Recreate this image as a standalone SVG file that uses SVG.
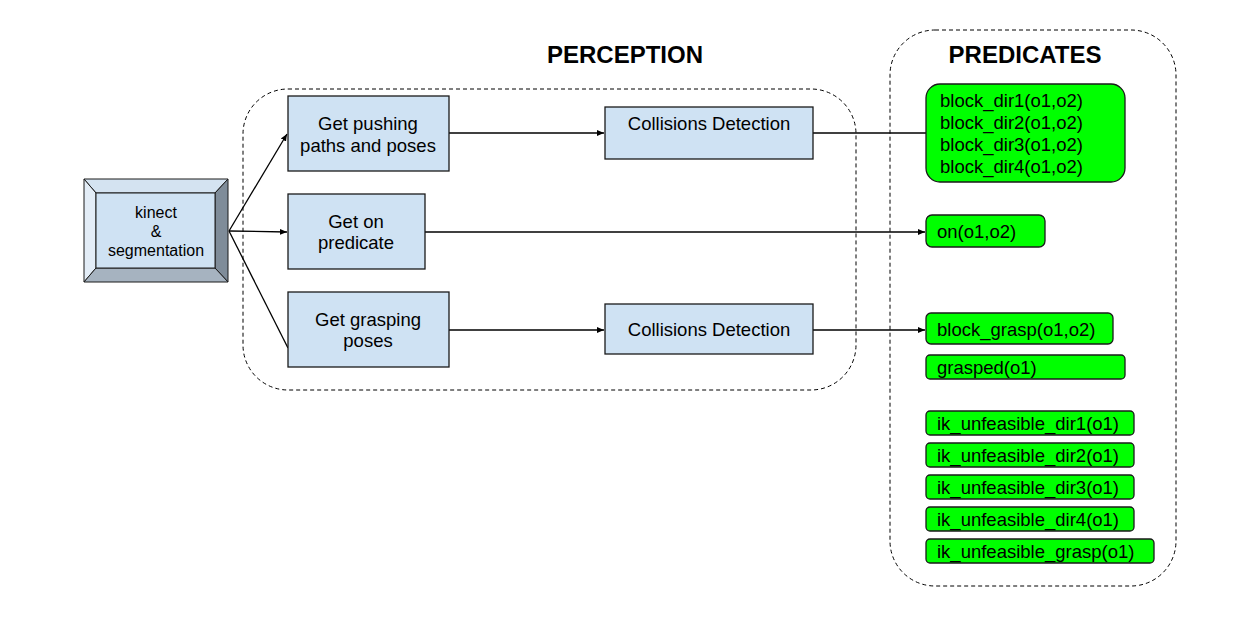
<svg xmlns="http://www.w3.org/2000/svg" width="1254" height="625" viewBox="0 0 1254 625">
<style>
text{font-family:"Liberation Sans",Arial,sans-serif;fill:#000}
.title{font-size:24px;font-weight:bold;text-anchor:middle}
.proc{fill:#cfe2f3;stroke:#1a1a1a;stroke-width:1.3}
.pt{font-size:18.5px;text-anchor:middle}
.kt{font-size:16px;text-anchor:middle}
.pred{fill:#00ff00;stroke:#1a1a1a;stroke-width:1.3}
.prt{font-size:18.5px}
.cont{fill:none;stroke:#000;stroke-width:1;stroke-dasharray:4,3}
.conn{fill:none;stroke:#000;stroke-width:1.3}
</style>
<defs>
<marker id="arr" markerWidth="8" markerHeight="8" refX="7" refY="4" orient="auto" markerUnits="userSpaceOnUse">
<path d="M0,1 L7,4 L0,7 Z" fill="#000"/>
</marker>
</defs>
<rect width="1254" height="625" fill="#fff"/>
<g id="containers">
<rect class="cont" x="243" y="89" width="613" height="301" rx="45" ry="45"/>
<rect class="cont" x="890" y="30" width="286" height="556" rx="45" ry="45"/>
</g>
<text class="title" x="625" y="63">PERCEPTION</text>
<text class="title" x="1025" y="63">PREDICATES</text>
<g id="connectors">
<line class="conn" x1="229" y1="231" x2="287" y2="134" marker-end="url(#arr)"/>
<line class="conn" x1="229" y1="231" x2="287" y2="232" marker-end="url(#arr)"/>
<line class="conn" x1="229" y1="231" x2="288" y2="348"/>
<line class="conn" x1="449" y1="133" x2="604" y2="133" marker-end="url(#arr)"/>
<line class="conn" x1="813" y1="133" x2="926" y2="133"/>
<line class="conn" x1="425" y1="232" x2="925" y2="232" marker-end="url(#arr)"/>
<line class="conn" x1="449" y1="330" x2="604" y2="330" marker-end="url(#arr)"/>
<line class="conn" x1="813" y1="330" x2="925" y2="330" marker-end="url(#arr)"/>
</g>
<g id="kinect">
<polygon points="84,179 228,179 215,193 96,193" fill="#d4e3f1" stroke="#1a1a1a" stroke-width="1"/>
<polygon points="84,179 96,193 96,268 84,282" fill="#e3edf7" stroke="#1a1a1a" stroke-width="1"/>
<polygon points="228,179 228,282 215,268 215,193" fill="#7f8c99" stroke="#1a1a1a" stroke-width="1"/>
<polygon points="84,282 228,282 215,268 96,268" fill="#a6b3c0" stroke="#1a1a1a" stroke-width="1"/>
<rect x="96" y="193" width="119" height="75" fill="#cfe2f3" stroke="#1a1a1a" stroke-width="1"/>
<text class="kt" x="156" y="218">kinect</text>
<text class="kt" x="156" y="237">&amp;</text>
<text class="kt" x="156" y="256">segmentation</text>
</g>
<g id="get-pushing">
<rect class="proc" x="288" y="96" width="161" height="75"/>
<text class="pt" x="368" y="130">Get pushing</text>
<text class="pt" x="368" y="152">paths and poses</text>
</g>
<g id="get-on">
<rect class="proc" x="288" y="194" width="137" height="75"/>
<text class="pt" x="356" y="228">Get on</text>
<text class="pt" x="356" y="249">predicate</text>
</g>
<g id="get-grasping">
<rect class="proc" x="288" y="292" width="161" height="75"/>
<text class="pt" x="368" y="326">Get grasping</text>
<text class="pt" x="368" y="347">poses</text>
</g>
<g id="collisions-top">
<rect class="proc" x="605" y="107" width="208" height="52"/>
<text class="pt" x="709" y="130">Collisions Detection</text>
</g>
<g id="collisions-bottom">
<rect class="proc" x="605" y="304" width="208" height="50"/>
<text class="pt" x="709" y="336">Collisions Detection</text>
</g>
<g id="block-dir">
<rect class="pred" x="926" y="84" width="199" height="98" rx="14" ry="14"/>
<text class="prt" x="940" y="107">block_dir1(o1,o2)</text>
<text class="prt" x="940" y="129">block_dir2(o1,o2)</text>
<text class="prt" x="940" y="151">block_dir3(o1,o2)</text>
<text class="prt" x="940" y="173">block_dir4(o1,o2)</text>
</g>
<g id="on">
<rect class="pred" x="926" y="215" width="119" height="32" rx="6" ry="6"/>
<text class="prt" x="937" y="238">on(o1,o2)</text>
</g>
<g id="block-grasp">
<rect class="pred" x="926" y="313" width="187" height="31" rx="5" ry="5"/>
<text class="prt" x="937" y="336">block_grasp(o1,o2)</text>
</g>
<g id="grasped">
<rect class="pred" x="926" y="355" width="199" height="24" rx="4" ry="4"/>
<text class="prt" x="937" y="374">grasped(o1)</text>
</g>
<g id="ik-dir1">
<rect class="pred" x="926" y="411" width="208" height="24" rx="4" ry="4"/>
<text class="prt" x="937" y="430">ik_unfeasible_dir1(o1)</text>
</g>
<g id="ik-dir2">
<rect class="pred" x="926" y="443" width="208" height="24" rx="4" ry="4"/>
<text class="prt" x="937" y="462">ik_unfeasible_dir2(o1)</text>
</g>
<g id="ik-dir3">
<rect class="pred" x="926" y="475" width="208" height="24" rx="4" ry="4"/>
<text class="prt" x="937" y="494">ik_unfeasible_dir3(o1)</text>
</g>
<g id="ik-dir4">
<rect class="pred" x="926" y="507" width="208" height="24" rx="4" ry="4"/>
<text class="prt" x="937" y="526">ik_unfeasible_dir4(o1)</text>
</g>
<g id="ik-grasp">
<rect class="pred" x="926" y="539" width="228" height="24" rx="4" ry="4"/>
<text class="prt" x="937" y="558">ik_unfeasible_grasp(o1)</text>
</g>
</svg>
